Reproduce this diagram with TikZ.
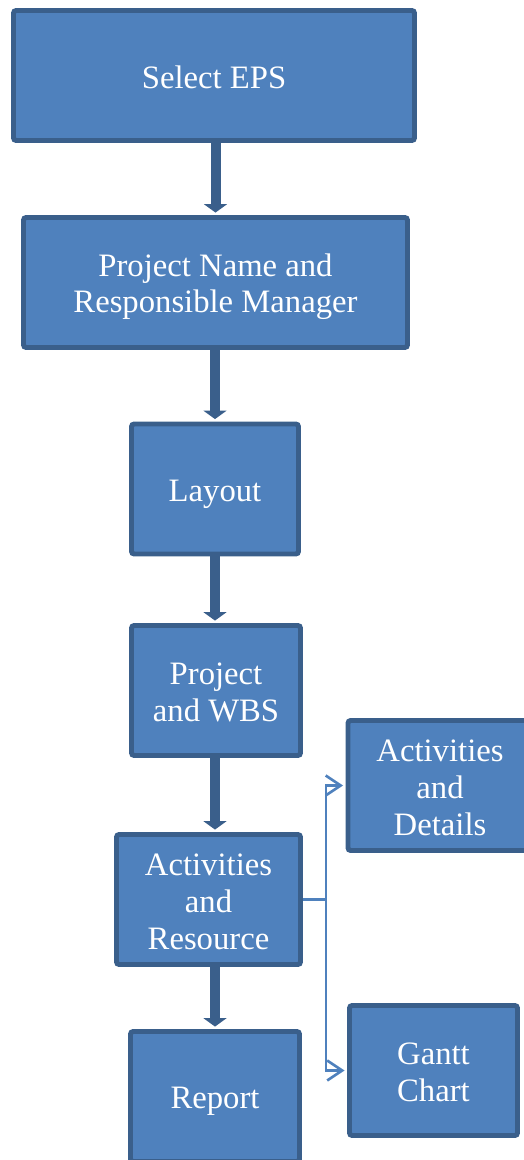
\documentclass[tikz,border=0pt]{standalone}
\usepackage{fontspec}
\setmainfont{Liberation Serif}
\usepackage{xcolor}
\usepackage{tikz}
\usetikzlibrary{arrows.meta,positioning}
\definecolor{boxfill}{HTML}{4F81BD}
\definecolor{boxline}{HTML}{3A5F8B}
\newcommand{\px}{0.02cm}
\newcommand{\tstrut}{\rule{0pt}{17.7pt}}
\tikzset{
  stepbox/.style={draw=boxline, fill=boxfill, line width=2.8pt, rounded corners=1.5pt,
    text=white, align=center, font=\fontsize{18.6}{21}\selectfont,
    inner sep=0pt, minimum height=130*\px,
    execute at end node={\rule[-3pt]{0pt}{0pt}}},
  flowarrow/.style={draw=boxline, line width=0.2cm, shorten >=1.4pt,
    -{Triangle[width=0.46cm,length=0.17cm]}},
  branch/.style={draw=boxfill, line width=1.5pt, shorten >=1.4pt,
    -{Straight Barb[width=0.4cm,length=0.3cm]}},
}
\begin{document}
\begin{tikzpicture}[x=\px, y=-\px]
  \useasboundingbox (0,0) rectangle (524,1160);
  % main column
  \node[stepbox, minimum width=401*\px] (sel) at (214,75.5) {\tstrut Select EPS};
  \node[stepbox, minimum width=384*\px] (pname) at (215.5,282.5) {\tstrut Project Name and\\Responsible Manager};
  \node[stepbox, minimum width=167*\px] (layout) at (215,489) {\tstrut Layout};
  \node[stepbox, minimum width=169*\px] (wbs) at (216,690.5) {\tstrut Project\\and WBS};
  \node[stepbox, minimum width=184*\px] (actres) at (208.5,899.5) {\tstrut Activities\\and\\Resource};
  \node[stepbox, minimum width=169*\px] (report) at (215,1096.5) {\tstrut Report};
  % side branch
  \node[stepbox, minimum width=184*\px] (actdet) at (440,785.5) {\tstrut Activities\\and\\Details};
  \node[stepbox, minimum width=168*\px] (gantt) at (433.5,1070.5) {\tstrut Gantt\\Chart};

  \draw[flowarrow] (sel.south -| pname.north) -- (pname.north);
  \draw[flowarrow] (pname.south -| layout.north) -- (layout.north);
  \draw[flowarrow] (layout.south) -- (layout.south |- wbs.north);
  \draw[flowarrow] (wbs.south -| layout.south) -- (layout.south |- actres.north);
  \draw[flowarrow] (actres.south -| report.north) -- (report.north);

  \draw[branch] (actres.east) -- ++(23,0) coordinate (split) |- (actdet.west);
  \draw[branch] (split) |- (gantt.west);
\end{tikzpicture}
\end{document}
